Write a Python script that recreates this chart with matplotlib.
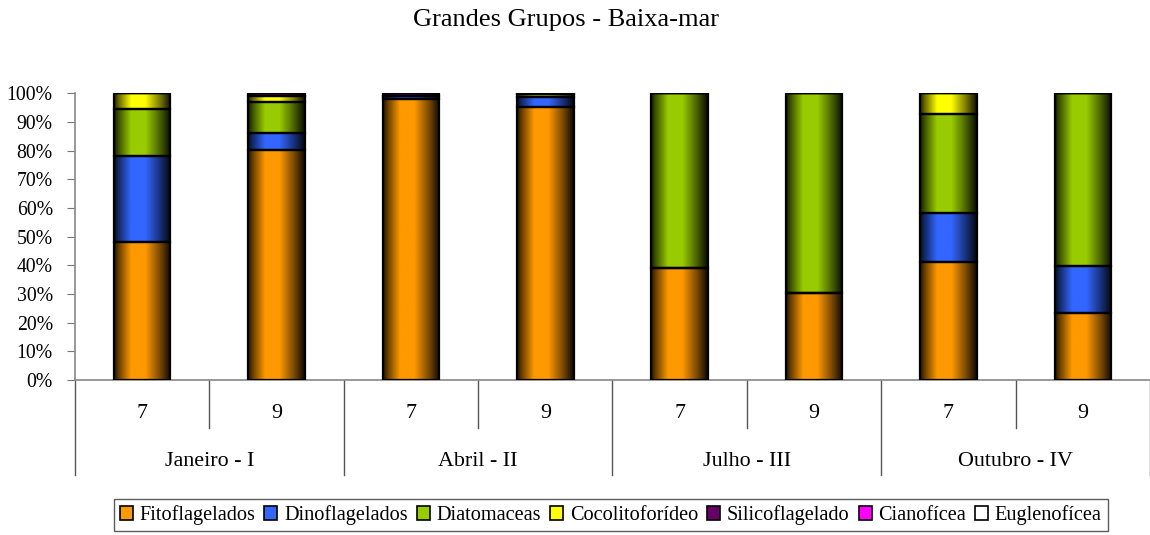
import numpy as np
import matplotlib.pyplot as plt
from matplotlib.patches import Patch
from matplotlib.colors import to_rgb
import matplotlib.transforms as mtransforms

plt.rcParams['font.family'] = ['Liberation Serif', 'DejaVu Serif']

meses = ['Janeiro - I', 'Abril - II', 'Julho - III', 'Outubro - IV']
estacoes = ['7', '9']
grupos = ['Fitoflagelados', 'Dinoflagelados', 'Diatomaceas', 'Cocolitoforídeo',
          'Silicoflagelado', 'Cianofícea', 'Euglenofícea']
cores = ['#FF9900', '#3366FF', '#99CC00', '#FFFF00', '#660066', '#FF00FF', '#FFFFFF']

# percentagens por barra (Jan 7, Jan 9, Abr 7, Abr 9, Jul 7, Jul 9, Out 7, Out 9)
fito = [48.0, 80.1, 98.0, 95.2, 39.2, 30.3, 41.0, 23.5]
dino = [30.3, 6.1, 1.0, 3.5, 0.0, 0.0, 17.4, 16.2]
diat = [16.2, 10.8, 0.2, 1.0, 60.8, 69.7, 34.4, 60.3]
coco = [5.5, 2.0, 0.0, 0.3, 0.0, 0.0, 7.2, 0.0]
silico = [0.0, 1.0, 0.8, 0.0, 0.0, 0.0, 0.0, 0.0]
ciano = [0.0, 0.0, 0.0, 0.0, 0.0, 0.0, 0.0, 0.0]
eugleno = [0.0, 0.0, 0.0, 0.0, 0.0, 0.0, 0.0, 0.0]
series = [fito, dino, diat, coco, silico, ciano, eugleno]


def cilindro(ax, patch, cor):
    # sombreado tipo cilindro (escuro nas bordas)
    x0, y0 = patch.get_x(), patch.get_y()
    w, h = patch.get_width(), patch.get_height()
    if h <= 0:
        return
    t = np.linspace(0, 1, 200)
    f = np.interp(t, [0, 0.08, 0.3, 0.55, 0.8, 1.0], [0.12, 0.4, 1.0, 1.0, 0.5, 0.05])
    rgb = np.array(to_rgb(cor))
    img = (f[:, None] * rgb[None, :])[None, :, :]
    ax.imshow(img, extent=[x0, x0 + w, y0, y0 + h], aspect='auto',
              interpolation='bilinear', zorder=2)


fig = plt.figure(figsize=(11.5, 5.35), dpi=100)
ax = fig.add_axes([0.0652, 0.2897, 0.9348, 0.5359])

n = len(fito)
x = np.arange(n)
base = np.zeros(n)
for vals, cor in zip(series, cores):
    vals = np.array(vals)
    bars = ax.bar(x, vals, 0.42, bottom=base, color='none', edgecolor='black',
                  linewidth=1.6, zorder=3)
    for p in bars:
        cilindro(ax, p, cor)
    base += vals

ax.set_xlim(-0.5, n - 0.5)
ax.set_ylim(0, 100)
ax.set_yticks(np.arange(0, 101, 10))
ax.set_yticklabels(['%d%%' % v for v in range(0, 101, 10)], fontsize=14.2)
ax.tick_params(axis='y', direction='out', length=6, color='#777777', pad=10)
ax.set_xticks([])
for s in ['top', 'right']:
    ax.spines[s].set_visible(False)
for s in ['left', 'bottom']:
    ax.spines[s].set_color('#888888')
    ax.spines[s].set_linewidth(1.2)

# eixo de categorias em dois níveis
trans = mtransforms.blended_transform_factory(ax.transData, ax.transAxes)
for i in range(n):
    ax.text(x[i], -0.118, estacoes[i % 2], transform=trans, ha='center',
            va='center', fontsize=15.8)
for k in range(n - 1):
    if k % 2 == 0:
        ax.plot([k + 0.5, k + 0.5], [0, -0.167], transform=trans, color='#555555',
                lw=1.0, clip_on=False)
for k in range(0, n + 1, 2):
    ax.plot([k - 0.5, k - 0.5], [0, -0.331], transform=trans, color='#555555',
            lw=1.0, clip_on=False)
for j, m in enumerate(meses):
    ax.text(2 * j + 0.5, -0.285, m, transform=trans, ha='center', va='center',
            fontsize=15.8)

fig.text(0.4926, 0.962, 'Grandes Grupos - Baixa-mar', ha='center', va='center',
         fontsize=19)

handles = [Patch(facecolor=c, edgecolor='black', linewidth=1.2) for c in cores]
leg = fig.legend(handles, grupos, loc='upper center', bbox_to_anchor=(0.531, 0.067),
                 ncol=7, fontsize=14.6, frameon=True, fancybox=False,
                 handlelength=0.64, handleheight=0.64, handletextpad=0.33,
                 columnspacing=0.45, borderpad=0.3, borderaxespad=0)
leg.get_frame().set_edgecolor('#333333')
leg.get_frame().set_linewidth(1.0)

fig.savefig('out.png', dpi=100)
